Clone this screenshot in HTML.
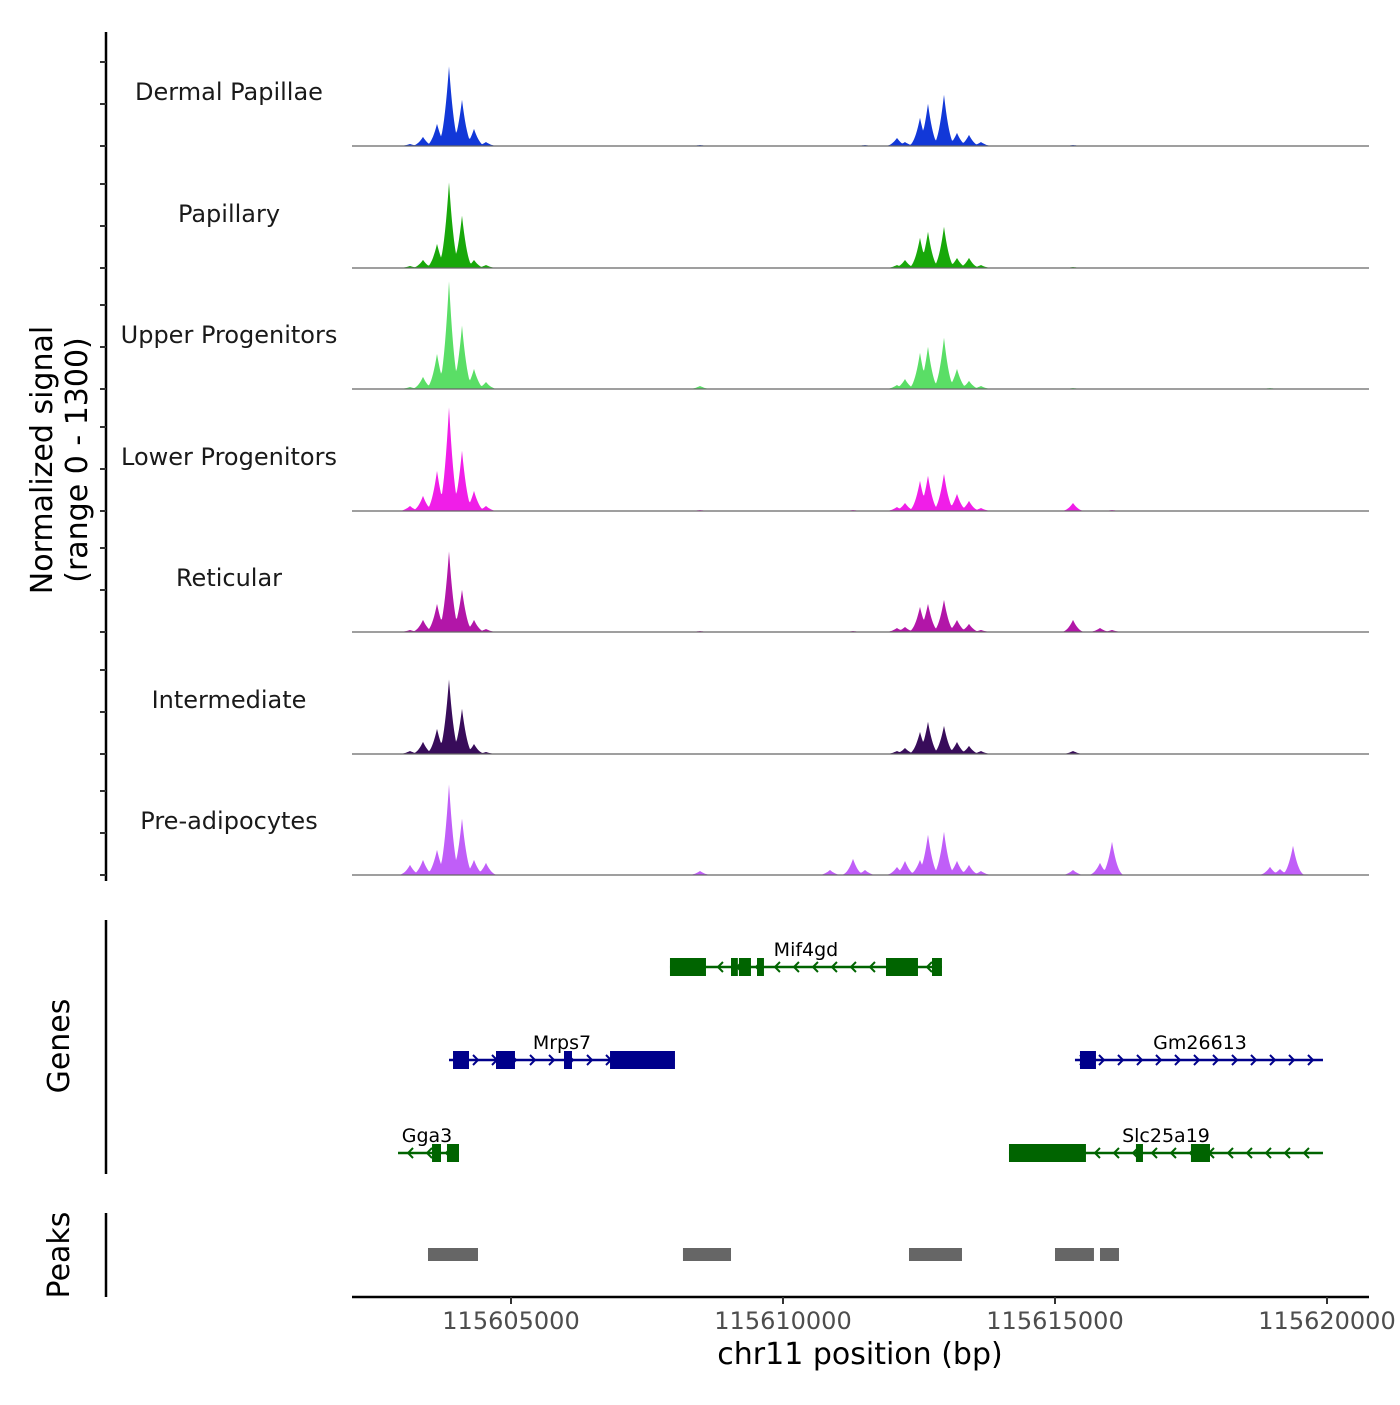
<!DOCTYPE html>
<html><head><meta charset="utf-8"><style>
body{margin:0;background:#fff;}
svg text{font-family:"DejaVu Sans","Liberation Sans",sans-serif;}
</style></head><body>
<svg id="chart" width="1400" height="1400" viewBox="0 0 1400 1400" xmlns="http://www.w3.org/2000/svg"></svg>
<script>
const trackNames = ["Dermal Papillae","Papillary","Upper Progenitors","Lower Progenitors","Reticular","Intermediate","Pre-adipocytes"];
const trackColors = ["#1238d8","#18a80a","#5ade66","#f01ee8","#b216a8","#380c5a","#c05ef8"];
const peakPositions = [115603143,115603382,115603640,115603860,115604099,115604320,115604540,115608474,115610864,115611287,115611507,115612095,115612242,115612518,115612665,115612959,115613198,115613419,115613639,115615331,115615827,115616048,115618952,115619136,115619375];
const dermalValues = [24,108,264,948,552,204,48,12,0,6,12,96,48,336,504,612,156,132,48,12,0,0,0,0,0];
const papillaryValues = [24,96,288,1020,624,96,36,0,0,0,0,36,96,360,432,492,120,120,36,12,0,0,0,0,0];
const upperValues = [24,144,420,1284,756,240,84,36,0,0,0,48,120,432,504,612,240,96,36,12,0,0,12,0,0];
const lowerValues = [60,180,480,1236,720,240,60,12,0,12,0,48,96,360,420,444,204,120,36,96,0,12,0,0,0];
const reticularValues = [24,144,336,960,504,144,36,12,0,12,0,48,60,300,336,384,144,96,24,144,48,24,0,0,0];
const intermediateValues = [36,144,300,888,540,120,24,0,0,0,0,36,72,264,384,336,144,96,36,36,0,0,0,0,0];
const preadipoValues = [120,180,300,1080,672,180,144,48,60,192,60,96,168,180,480,516,168,120,48,60,144,396,96,72,348];
const seriesValues = [dermalValues,papillaryValues,upperValues,lowerValues,reticularValues,intermediateValues,preadipoValues];
const xTicks = [115605000,115610000,115615000,115620000];
const xTickLabels = ["115605000","115610000","115615000","115620000"];
const yTicks = [0,500,1000];
const geneNames = ["Mif4gd","Mrps7","Gm26613","Gga3","Slc25a19"];
const geneStrands = [-1,1,1,-1,-1];
const geneStarts = [115607922,115603860,115615367,115602923,115614154];
const geneEnds = [115612922,115608014,115619926,115604044,115619926];
const geneRows = [0,1,1,2,2];
const geneExons = [
 [[115607922,115608584],[115609044,115609170],[115609190,115609411],[115609522,115609650],[115611893,115612481],[115612739,115612922]],
 [[115603934,115604228],[115604724,115605073],[115605974,115606121],[115606820,115608014]],
 [[115615459,115615753]],
 [[115603548,115603713],[115603823,115604044]],
 [[115614154,115615569],[115616488,115616617],[115617499,115617849]]
];
const peakStarts = [115603474,115608161,115612316,115615000,115615827];
const peakEnds = [115604393,115609044,115613290,115615716,115616176];

const svg = document.getElementById('chart');
const NS = "http://www.w3.org/2000/svg";
function mk(tag, attrs, name, inter){
  const e = document.createElementNS(NS, tag);
  for (const k in attrs) e.setAttribute(k, attrs[k]);
  
  
  svg.appendChild(e); return e;
}
const X0 = 352, X1 = 1369, D0 = 115602077, D1 = 115620772;
const xs = v => X0 + (v - D0) / (D1 - D0) * (X1 - X0);
const baselines = [146,268,389,511,632,754,875];
const yUnit = 0.084;
const ys = (i, v) => baselines[i] - v * yUnit;

mk('line',{x1:106,y1:32,x2:106,y2:881,stroke:'#000','stroke-width':2.5},'signal-y-axis',false);
for (let i=0;i<7;i++){
  yTicks.forEach(t=>{
    mk('line',{x1:100,y1:ys(i,t),x2:106,y2:ys(i,t),stroke:'#333','stroke-width':2},'y-tick',false);
  });
}
const yt = mk('text',{transform:'translate(52,460) rotate(-90)','text-anchor':'middle','font-size':30},'y-axis-title',false);
yt.innerHTML = '<tspan x="0" dy="0">Normalized signal</tspan><tspan x="0" dy="35">(range 0 - 1300)</tspan>';

const hw = 230;
for (let i=0;i<7;i++){
  const vals = seriesValues[i];
  let d = `M${X0},${baselines[i]}`;
  for (let px = X0; px <= X1; px += 1){
    const bp = D0 + (px - X0) / (X1 - X0) * (D1 - D0);
    let v = 0;
    peakPositions.forEach((p,k)=>{
      const w = Math.abs(bp - p);
      if (w < hw){ v = Math.max(v, vals[k] * Math.pow(1 - w / hw, 2.2)); }
    });
    d += `L${px},${ys(i,v).toFixed(1)}`;
  }
  d += `L${X1},${baselines[i]}Z`;
  mk('path',{d:d,fill:trackColors[i]},'coverage-'+trackNames[i].toLowerCase().replace(/ /g,'-'),false);
  mk('line',{x1:X0,y1:baselines[i],x2:X1,y2:baselines[i],stroke:'#666','stroke-width':1.2},'track-baseline',false);
  const t = mk('text',{x:229,y:baselines[i]-46,'text-anchor':'middle','font-size':24,fill:'#1a1a1a'},'track-label',false);
  t.textContent = trackNames[i];
}

mk('line',{x1:106,y1:920,x2:106,y2:1174,stroke:'#000','stroke-width':2.5},'genes-axis',false);
const gt = mk('text',{transform:'translate(69,1046) rotate(-90)','text-anchor':'middle','font-size':30},'genes-title',false);
gt.textContent = 'Genes';
const rowY = [967,1060,1153];
geneNames.forEach((g,i)=>{
  const y = rowY[geneRows[i]];
  const col = geneStrands[i] > 0 ? '#00008b' : '#006400';
  const a = xs(geneStarts[i]), b = xs(geneEnds[i]);
  mk('line',{x1:a,y1:y,x2:b,y2:y,stroke:col,'stroke-width':2.5},'gene-line-'+g,false);
  for (let x = a + 10; x < b - 4; x += 19){
    const s = geneStrands[i] * 5;
    mk('polyline',{points:`${x-s},${y-5} ${x},${y} ${x-s},${y+5}`,fill:'none',stroke:col,'stroke-width':2},'strand-arrow',false);
  }
  geneExons[i].forEach(ex=>{
    mk('rect',{x:xs(ex[0]),y:y-9,width:xs(ex[1])-xs(ex[0]),height:18,fill:col},'exon-'+g,false);
  });
  const lx = g==='Gga3'?427:(g==='Slc25a19'?1166:(g==='Gm26613'?1200:(a+b)/2));
  const lt = mk('text',{x:lx,y:y-11,'text-anchor':'middle','font-size':19,fill:'#000'},'gene-label-'+g,false);
  lt.textContent = g;
});

mk('line',{x1:106,y1:1213,x2:106,y2:1297,stroke:'#000','stroke-width':2.5},'peaks-axis',false);
const pt = mk('text',{transform:'translate(69,1255) rotate(-90)','text-anchor':'middle','font-size':30},'peaks-title',false);
pt.textContent = 'Peaks';
peakStarts.forEach((s,i)=>{
  mk('rect',{x:xs(s),y:1248,width:xs(peakEnds[i])-xs(s),height:13,fill:'#666'},'peak-region',false);
});

mk('line',{x1:X0,y1:1297,x2:X1,y2:1297,stroke:'#000','stroke-width':2.5},'x-axis',false);
xTicks.forEach((t,i)=>{
  mk('line',{x1:xs(t),y1:1297,x2:xs(t),y2:1304,stroke:'#333','stroke-width':2},'x-tick',false);
  const tl = mk('text',{x:xs(t),y:1329,'text-anchor':'middle','font-size':24,fill:'#4d4d4d'},'x-tick-label',false);
  tl.textContent = xTickLabels[i];
});
const xt = mk('text',{x:860,y:1364,'text-anchor':'middle','font-size':30},'x-axis-title',false);
xt.textContent = 'chr11 position (bp)';
</script>
</body></html>
